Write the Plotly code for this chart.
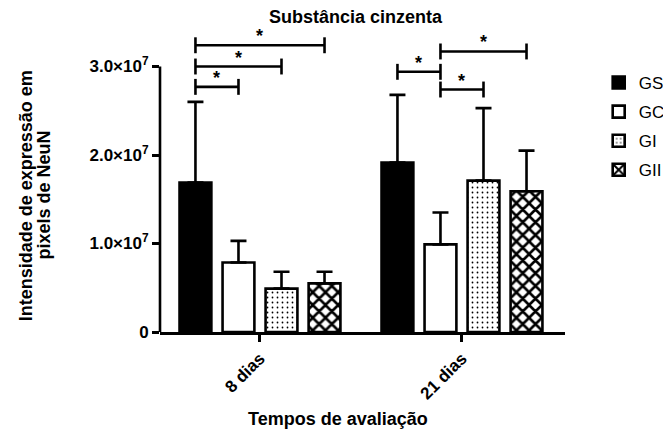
import plotly.graph_objects as go

# ---------------- data ----------------
categories = ["8 dias", "21 dias"]
series = ["GS", "GC", "GI", "GII"]

gs_mean = [1.69e7, 1.915e7]
gc_mean = [0.785e7, 0.99e7]
gi_mean = [0.49e7, 1.71e7]
gii_mean = [0.55e7, 1.59e7]

gs_err = [0.91e7, 0.765e7]
gc_err = [0.245e7, 0.36e7]
gi_err = [0.19e7, 0.82e7]
gii_err = [0.13e7, 0.46e7]

y_tick_vals = [0, 1e7, 2e7, 3e7]
y_tick_text = ["0", "1.0×10<sup>7</sup>", "2.0×10<sup>7</sup>", "3.0×10<sup>7</sup>"]

# significance comparisons (category index, series from, series to, bracket level)
sig_category = [0, 0, 0, 1, 1, 1]
sig_from = [0, 0, 0, 0, 1, 1]
sig_to = [1, 2, 3, 1, 2, 3]
sig_level = [2.77e7, 3.0e7, 3.24e7, 2.94e7, 2.74e7, 3.17e7]
sig_label = ["*", "*", "*", "*", "*", "*"]

# ---------------- style ----------------
FONT = "Liberation Sans, Arial, Helvetica, sans-serif"
BARGAP = 0.148
BARGROUPGAP = 0.26
LW = 2.6

means = [gs_mean, gc_mean, gi_mean, gii_mean]
errs = [gs_err, gc_err, gi_err, gii_err]
styles = [
    dict(color="black"),
    dict(color="white"),
    dict(color="white", pattern=dict(shape=".", fgcolor="black", bgcolor="white",
                                     size=5, solidity=0.1, fillmode="replace")),
    dict(color="white", pattern=dict(shape="x", fgcolor="black", bgcolor="white",
                                     size=9, solidity=0.5, fillmode="replace")),
]

xpos = list(range(len(categories)))
fig = go.Figure()
for k, name in enumerate(series):
    fig.add_trace(go.Bar(
        name=name, x=xpos, y=means[k],
        marker=dict(line=dict(color="black", width=LW), **styles[k]),
        error_y=dict(type="data", symmetric=False, array=errs[k],
                     arrayminus=[0] * len(categories),
                     color="black", thickness=LW, width=8),
        legendgroup=name,
    ))

# significance brackets, computed from bar slot positions
slot = (1 - BARGAP) / len(series)
def bar_center(ci, k):
    return xpos[ci] + (k - (len(series) - 1) / 2) * slot

tick_h = 0.09e7
for ci, a, b, lvl, lab in zip(sig_category, sig_from, sig_to, sig_level, sig_label):
    x0 = bar_center(ci, a)
    x1 = bar_center(ci, b)
    line = dict(color="black", width=LW)
    fig.add_shape(type="line", xref="x", yref="y", x0=x0, x1=x1, y0=lvl, y1=lvl, line=line)
    fig.add_shape(type="line", xref="x", yref="y", x0=x0, x1=x0, y0=lvl - tick_h, y1=lvl + tick_h, line=line)
    fig.add_shape(type="line", xref="x", yref="y", x0=x1, x1=x1, y0=lvl - tick_h, y1=lvl + tick_h, line=line)
    fig.add_annotation(x=(x0 + x1) / 2, y=lvl, xref="x", yref="y", text=f"<b>{lab}</b>",
                       showarrow=False, yanchor="bottom", yshift=-3,
                       font=dict(family=FONT, size=18, color="black"))

# y axis line from 0 to top tick only
fig.add_shape(type="line", xref="paper", yref="y", x0=0, x1=0, y0=0, y1=max(y_tick_vals),
              line=dict(color="black", width=LW))

# titles
fig.add_annotation(text="<b>Substância cinzenta</b>", xref="paper", yref="paper",
                   x=0.484, y=1.026, showarrow=False, yanchor="middle",
                   font=dict(family=FONT, size=18, color="black"))
fig.add_annotation(text="<b>Intensidade de expressão em</b>",
                   xref="paper", yref="paper", x=-0.331, y=0.445, textangle=-90,
                   showarrow=False, xanchor="center", yanchor="middle",
                   font=dict(family=FONT, size=18, color="black"))
fig.add_annotation(text="<b>pixels de NeuN</b>",
                   xref="paper", yref="paper", x=-0.286, y=0.445, textangle=-90,
                   showarrow=False, xanchor="center", yanchor="middle",
                   font=dict(family=FONT, size=18, color="black"))
fig.add_annotation(text="<b>Tempos de avaliação</b>", xref="paper", yref="paper",
                   x=0.44, y=-0.283, showarrow=False, yanchor="middle",
                   font=dict(family=FONT, size=18, color="black"))

fig.update_layout(
    width=663, height=433,
    margin=dict(l=160, r=98, t=25, b=101, autoexpand=False),
    paper_bgcolor="white", plot_bgcolor="white",
    barmode="group", bargap=BARGAP, bargroupgap=BARGROUPGAP,
    showlegend=True,
    legend=dict(xref="container", yref="container", x=0.903, y=0.85,
                xanchor="left", yanchor="top",
                font=dict(family=FONT, size=17, color="black"),
                traceorder="grouped", tracegroupgap=4, bgcolor="rgba(0,0,0,0)"),
    font=dict(family=FONT, color="black"),
)
fig.update_xaxes(
    range=[-0.495, 1.51], tickvals=xpos, ticktext=categories, tickangle=-45,
    showline=True, linecolor="black", linewidth=LW, ticks="outside", ticklen=7,
    tickwidth=LW, tickcolor="black", showgrid=False, zeroline=False, automargin=False,
    tickfont=dict(family=FONT, size=17, color="black", weight="bold"),
)
fig.update_yaxes(
    range=[0, 3.469e7], tickvals=y_tick_vals, ticktext=y_tick_text,
    showline=False, ticks="outside", ticklen=7, tickwidth=LW, tickcolor="black",
    showgrid=False, zeroline=False, automargin=False,
    tickfont=dict(family=FONT, size=17, color="black", weight="bold"),
)

fig.write_html("out.html")
